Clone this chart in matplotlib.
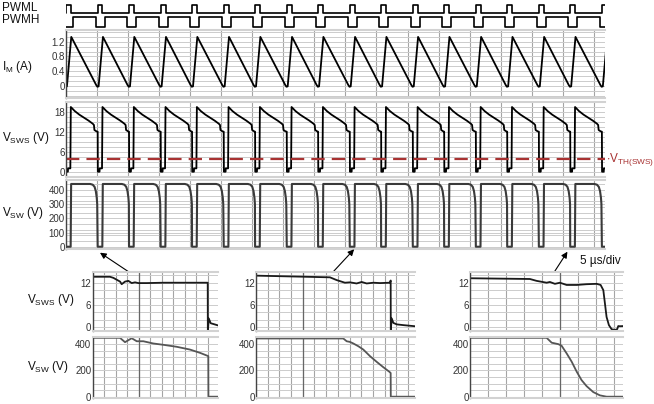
import matplotlib
matplotlib.use("Agg")
import matplotlib.pyplot as plt
from matplotlib.ticker import MultipleLocator

plt.rcParams['font.family'] = ['Liberation Sans', 'DejaVu Sans']
plt.rcParams['mathtext.default'] = 'regular'

W, H = 654, 404

# ---- main traces (time in grid divisions) ----
pulse_centers = [-0.94, 0.08, 1.10, 2.11, 3.13, 4.14, 5.16, 6.17, 7.19, 8.20,
                 9.22, 10.23, 11.25, 12.26, 13.28, 14.29, 15.31, 16.32, 17.34]

# one switching cycle, offsets from the PWML pulse centre
pwml_off = [-0.075, -0.075, 0.075, 0.075]
pwml_val = [1.75, 2.75, 2.75, 1.75]
pwmh_off = [-0.14, -0.14, 0.14, 0.14]
pwmh_val = [1.25, 0.0, 0.0, 1.25]
im_off = [-0.13, -0.09, -0.05, 0.09]
im_val = [0.03, -0.02, -0.01, 1.33]
vsws_off = [-0.08, -0.075, -0.02, -0.015, 0.06, 0.075, 0.2, 0.35, 0.5, 0.65, 0.78, 0.82, 0.835, 0.9]
vsws_val = [12.0, 0.0, 0.0, 1.0, 1.0, 19.4, 18.2, 17.1, 16.2, 15.3, 14.4, 14.0, 12.5, 12.1]
vsw_off = [-0.08, 0.07, 0.085, 0.7, 0.78, 0.84, 0.88, 0.91, 0.925]
vsw_val = [0, 0, 442, 442, 437, 422, 392, 345, 300]
vth_sws = 3.8

# ---- zoomed views ----
left_sws_t = [0, 1.5, 1.8, 2.38, 2.52, 2.81, 3.1, 3.39, 3.68, 3.97, 4.7, 6.14, 7.59, 10.0, 10.01, 10.09, 10.26, 10.49, 10.92]
left_sws_v = [13.6, 13.6, 13.3, 12.3, 11.6, 12.3, 12.5, 11.9, 12.1, 11.9, 11.9, 12.0, 12.0, 12.0, -1.2, 2.4, 1.1, 0.9, 0.5]
left_sw_t = [0, 2.37, 2.81, 3.39, 3.83, 4.4, 5.27, 6.14, 7.3, 8.45, 9.33, 10.05, 10.06, 10.92]
left_sw_v = [447, 447, 414, 444, 421, 421, 404, 394, 379, 358, 333, 308, 0, 0]

mid_sws_t = [0, 6.32, 6.9, 7.6, 8.03, 8.6, 9.03, 9.46, 10.03, 10.6, 11.45, 11.51, 11.52, 11.6, 11.74, 12.03, 12.59, 13.59]
mid_sws_v = [13.9, 13.45, 12.7, 12.0, 12.1, 11.8, 12.2, 11.8, 12.0, 11.9, 12.0, 12.6, -0.6, 2.4, 1.2, 0.8, 0.6, 0.3]
mid_sw_t = [0, 7.46, 7.75, 8.03, 8.32, 8.75, 9.17, 9.74, 10.31, 10.88, 11.4, 11.51, 11.52, 13.59]
mid_sw_v = [442, 442, 421, 416, 404, 383, 358, 308, 265, 224, 189, 180, 0, 0]

right_sws_t = [0, 3.33, 3.7, 4.26, 4.44, 4.72, 5.0, 5.37, 5.93, 6.48, 7.04, 7.26, 7.41, 7.5, 7.59, 7.72, 7.87, 8.06, 8.18, 8.24, 8.33, 8.52]
right_sws_v = [13.2, 13.0, 12.5, 12.0, 12.2, 11.7, 12.0, 11.4, 11.4, 11.6, 11.7, 11.4, 10.0, 6.4, 2.8, 0.6, -0.5, -0.7, -0.5, 0.35, 0.3, 0.35]
right_sw_t = [0, 4.26, 4.54, 4.91, 5.09, 5.37, 5.65, 5.93, 6.2, 6.48, 6.85, 7.22, 7.59, 8.52]
right_sw_v = [447, 447, 410, 399, 387, 329, 266, 190, 126, 80, 35, 10, 0, 0]


def tile(offsets, values):
    t, v = [], []
    for c in pulse_centers:
        t += [c + o for o in offsets]
        v += values
    return t, v


def add_ax(x0, y0, x1, y1):
    return fig.add_axes([x0 / W, 1 - y1 / H, (x1 - x0) / W, (y1 - y0) / H])


def style(ax, xlim, ylim, ticks, hstep, vstep):
    ax.set_xlim(xlim)
    ax.set_ylim(ylim)
    ax.set_xticks([])
    ax.set_yticks(ticks)
    ax.set_yticklabels([f"{t:g}" for t in ticks])
    ax.xaxis.set_minor_locator(MultipleLocator(vstep))
    ax.yaxis.set_minor_locator(MultipleLocator(hstep))
    ax.grid(which='both', axis='y', color='#cccccc', lw=0.7)
    ax.grid(which='minor', axis='x', color='#a5a5a5', lw=0.8)
    ax.set_axisbelow(True)
    ax.tick_params(which='both', length=0, labelsize=7, pad=1, labelcolor='#333333')
    ax.spines['right'].set_visible(False)
    ax.spines['left'].set_color('#444444')
    ax.spines['left'].set_linewidth(1.0)
    for s in ('top', 'bottom'):
        ax.spines[s].set_color('#d2d2d2')
        ax.spines[s].set_linewidth(1.5)


fig = plt.figure(figsize=(W / 100, H / 100), dpi=100)
xmain = (0, 17.36)

# PWM signals
ax_pwm = add_ax(66, 3, 605, 29)
t, v = tile(pwml_off, pwml_val)
ax_pwm.plot(t, v, color='k', lw=1.2)
t, v = tile(pwmh_off, pwmh_val)
ax_pwm.plot(t, v, color='k', lw=1.2)
ax_pwm.set_xlim(xmain)
ax_pwm.set_ylim(-0.25, 3.0)
ax_pwm.axis('off')

# motor current
ax_im = add_ax(66, 30, 605, 98)
style(ax_im, xmain, (-0.325, 1.517), [0, 0.4, 0.8, 1.2], 0.4 / 3, 1)
t, v = tile(im_off, im_val)
ax_im.plot(t, v, color='k', lw=1.3)
ax_im.set_yticklabels(['0', '0.4', '0.8', '1.2'])

# VSWS
ax_sws = add_ax(66, 102, 605, 177)
style(ax_sws, xmain, (-1.59, 20.9), [0, 6, 12, 18], 1.5, 1)
t, v = tile(vsws_off, vsws_val)
ax_sws.plot(t, v, color='k', lw=1.3)
ax_sws.axhline(vth_sws, color='#a83232', lw=1.6, dashes=(6, 3.2))
ax_sws.text(1.002, vth_sws, r"$\cdot$V$_{TH(SWS)}$", transform=ax_sws.get_yaxis_transform(),
            color='#a83232', fontsize=8.5, va='center', ha='left')

# VSW
ax_sw = add_ax(66, 180, 605, 249)
style(ax_sw, xmain, (-16, 470), [0, 100, 200, 300, 400], 40, 1)
t, v = tile(vsw_off, vsw_val)
ax_sw.plot(t, v, color='#3a3a3a', lw=1.5)

# zoomed views
insets = [
    (92.7, 218.3, 10.92, 1, 4, left_sws_t, left_sws_v, left_sw_t, left_sw_v),
    (256.0, 415.0, 13.59, 1, 4, mid_sws_t, mid_sws_v, mid_sw_t, mid_sw_v),
    (470.0, 623.3, 8.52, 1, 5, right_sws_t, right_sws_v, right_sw_t, right_sw_v),
]
inset_axes = []
for x0, x1, span, step, dark, st, sv, wt, wv in insets:
    a1 = add_ax(x0, 272.3, x1, 330.7)
    style(a1, (0, span), (-0.9, 14.8), [0, 6, 12], 2, step)
    a1.axvline(dark, color='#666666', lw=0.9, zorder=1)
    a1.plot(st, sv, color='#1a1a1a', lw=1.3)
    a2 = add_ax(x0, 337.3, x1, 398)
    style(a2, (0, span), (-10, 451), [0, 200, 400], 50, step)
    a2.axvline(dark, color='#666666', lw=0.9, zorder=1)
    a2.plot(wt, wv, color='#555555', lw=1.3)
    inset_axes.append(a1)

# arrows from zoomed views to the switching events
arrows = [(inset_axes[0], (3.53, 14.1), (1.095, -42)),
          (inset_axes[1], (6.47, 14.5), (9.28, -18)),
          (inset_axes[2], (4.54, 13.8), (16.15, -35))]
for ax_from, p_from, p_to in arrows:
    ax_sw.annotate("", xy=p_to, xycoords=ax_sw.transData, xytext=p_from,
                   textcoords=ax_from.transData, annotation_clip=False,
                   arrowprops=dict(arrowstyle='-|>', color='k', lw=0.8,
                                   mutation_scale=9, shrinkA=0, shrinkB=0))

# row labels
lab = dict(fontsize=8.5, va='center', ha='left', color='#111111')
fig.text(2 / W, 1 - 8 / H, "PWML", **lab)
fig.text(2 / W, 1 - 20 / H, "PWMH", **lab)
fig.text(2 / W, 1 - 67 / H, r"I$_M$ (A)", **lab)
fig.text(2 / W, 1 - 138 / H, r"V$_{SWS}$ (V)", **lab)
fig.text(2 / W, 1 - 213 / H, r"V$_{SW}$ (V)", **lab)
fig.text(27 / W, 1 - 300 / H, r"V$_{SWS}$ (V)", **lab)
fig.text(27 / W, 1 - 367 / H, r"V$_{SW}$ (V)", **lab)
fig.text(580 / W, 1 - 261 / H, "5 µs/div", **lab)

fig.savefig("out.png", dpi=100)
